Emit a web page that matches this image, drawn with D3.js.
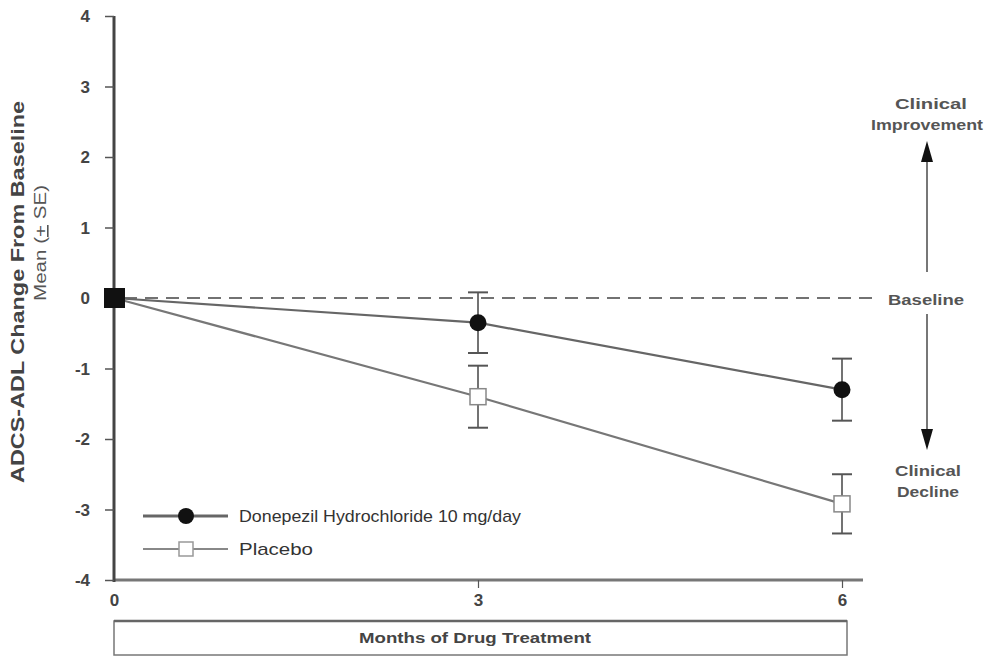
<!DOCTYPE html>
<html><head><meta charset="utf-8">
<script src="https://cdn.jsdelivr.net/npm/d3@7/dist/d3.min.js"></script>
<style>body{margin:0;background:#fff;}svg{display:block;}</style>
</head><body>
<svg id="c" width="985" height="657"></svg>
<script>
const months = [0, 3, 6];
const donepezilMean = [0, -0.35, -1.30];
const donepezilSE = [0, 0.43, 0.44];
const placeboMean = [0, -1.40, -2.92];
const placeboSE = [0, 0.44, 0.42];
const yTicks = [4, 3, 2, 1, 0, -1, -2, -3, -4];
const xTicks = [0, 3, 6];
const seriesNames = ["Donepezil Hydrochloride 10 mg/day", "Placebo"];

const svg = d3.select("#c");
const x = d3.scaleLinear().domain([0, 6]).range([114, 842]);
const y = d3.scaleLinear().domain([-4, 4]).range([580, 16]);
const font = "Liberation Sans, Arial, sans-serif";
const fmt = d => String(d);
const SG = "spacingAndGlyphs";

// baseline dashed
svg.append("line").attr("x1", x(0)+10).attr("x2", 880).attr("y1", y(0)).attr("y2", y(0))
  .attr("stroke", "#444").attr("stroke-width", 1.6).attr("stroke-dasharray", "13,8");

// x axis line
svg.append("line").attr("x1", x(0)).attr("x2", 863).attr("y1", y(-4)).attr("y2", y(-4))
  .attr("stroke", "#777").attr("stroke-width", 3);
// y axis
const yAxis = d3.axisLeft(y).tickValues(yTicks).tickSize(9).tickPadding(15).tickFormat(fmt);
const yg = svg.append("g").attr("transform", `translate(${x(0)},0)`).call(yAxis);
yg.select(".domain").attr("stroke", "#444").attr("stroke-width", 3).attr("d", `M0,${y(4)}V${y(-4)+2}`);
yg.selectAll(".tick line").attr("stroke", "#555").attr("stroke-width", 1.5);
yg.selectAll(".tick text").attr("font-family", font).attr("font-size", 17).attr("font-weight", "bold").attr("fill", "#444").attr("dy", "0.35em");

const xAxis = d3.axisBottom(x).tickValues(xTicks).tickSize(8).tickPadding(6).tickFormat(fmt);
const xg = svg.append("g").attr("transform", `translate(0,${y(-4)})`).call(xAxis);
xg.select(".domain").remove();
xg.selectAll(".tick line").attr("stroke", "#555").attr("stroke-width", 1.2).filter(d => d === 0).remove();
xg.selectAll(".tick text").attr("font-family", font).attr("font-size", 17).attr("font-weight", "bold").attr("fill", "#444");

// y axis title
svg.append("text").attr("transform", "translate(24,292) rotate(-90)")
  .attr("text-anchor", "middle").attr("font-family", font).attr("font-size", 18).attr("font-weight", "bold").attr("fill", "#444")
  .attr("textLength", 382).attr("lengthAdjust", SG)
  .text("ADCS-ADL Change From Baseline");
const yt2 = svg.append("text").attr("transform", "translate(46,243) rotate(-90)")
  .attr("text-anchor", "middle").attr("font-family", font).attr("font-size", 16).attr("fill", "#555")
  .attr("textLength", 116).attr("lengthAdjust", SG);
yt2.append("tspan").text("Mean (");
yt2.append("tspan").attr("text-decoration", "underline").text("+");
yt2.append("tspan").text(" SE)");

// lines
const lineGen = d3.line().x((d, i) => x(months[i])).y(d => y(d));
svg.append("path").attr("d", lineGen(placeboMean)).attr("fill", "none").attr("stroke", "#777").attr("stroke-width", 2.2);
svg.append("path").attr("d", lineGen(donepezilMean)).attr("fill", "none").attr("stroke", "#666").attr("stroke-width", 2.2);

// error bars
function errBars(mean, se) {
  months.forEach((m, i) => {
    if (i === 0) return;
    const cx = x(m);
    svg.append("line").attr("x1", cx).attr("x2", cx).attr("y1", y(mean[i] + se[i])).attr("y2", y(mean[i] - se[i]))
      .attr("stroke", "#444").attr("stroke-width", 1.5);
    [mean[i] + se[i], mean[i] - se[i]].forEach(v => {
      svg.append("line").attr("x1", cx - 10).attr("x2", cx + 10).attr("y1", y(v)).attr("y2", y(v))
        .attr("stroke", "#555").attr("stroke-width", 2);
    });
  });
}
errBars(donepezilMean, donepezilSE);
errBars(placeboMean, placeboSE);

// markers
months.forEach((m, i) => {
  if (i === 0) return;
  svg.append("circle").attr("cx", x(m)).attr("cy", y(donepezilMean[i])).attr("r", 8.5).attr("fill", "#111");
  svg.append("rect").attr("x", x(m) - 8).attr("y", y(placeboMean[i]) - 8).attr("width", 16).attr("height", 16)
    .attr("fill", "#fff").attr("stroke", "#888").attr("stroke-width", 1.5);
});
// baseline square
svg.append("rect").attr("x", x(0) - 10).attr("y", y(0) - 10).attr("width", 21).attr("height", 20).attr("fill", "#111");

// legend
const legY = [516, 549];
const legLen = [282, 74];
svg.append("line").attr("x1", 143).attr("x2", 228).attr("y1", legY[0]).attr("y2", legY[0]).attr("stroke", "#666").attr("stroke-width", 3);
svg.append("circle").attr("cx", 186).attr("cy", legY[0]).attr("r", 8).attr("fill", "#111");
svg.append("line").attr("x1", 143).attr("x2", 228).attr("y1", legY[1]).attr("y2", legY[1]).attr("stroke", "#888").attr("stroke-width", 2);
svg.append("rect").attr("x", 179).attr("y", legY[1] - 7).attr("width", 14).attr("height", 14).attr("fill", "#fff").attr("stroke", "#999").attr("stroke-width", 1.5);
seriesNames.forEach((n, i) => {
  svg.append("text").attr("x", 239).attr("y", legY[i]).attr("dy", "0.35em").attr("font-family", font)
    .attr("font-size", 17).attr("fill", "#333").attr("textLength", legLen[i]).attr("lengthAdjust", SG).text(n);
});

// right annotations
const ann = svg.append("g").attr("font-family", font).attr("font-weight", "bold").attr("font-size", 14).attr("fill", "#555").attr("text-anchor", "middle");
const annotations = [
  {t: "Clinical", x: 931, y: 109, w: 72},
  {t: "Improvement", x: 927, y: 130, w: 112},
  {t: "Baseline", x: 926, y: 305, w: 76},
  {t: "Clinical", x: 928, y: 476, w: 66},
  {t: "Decline", x: 928, y: 497, w: 62}
];
annotations.forEach(a => ann.append("text").attr("x", a.x).attr("y", a.y).attr("textLength", a.w).attr("lengthAdjust", SG).text(a.t));
svg.append("line").attr("x1", 927).attr("x2", 927).attr("y1", 272).attr("y2", 158).attr("stroke", "#777").attr("stroke-width", 2);
svg.append("path").attr("d", "M927,141 L921,162 L933,162 Z").attr("fill", "#111");
svg.append("line").attr("x1", 927).attr("x2", 927).attr("y1", 314).attr("y2", 432).attr("stroke", "#777").attr("stroke-width", 2);
svg.append("path").attr("d", "M927,450 L921,429 L933,429 Z").attr("fill", "#111");

// x axis title box
svg.append("rect").attr("x", 114).attr("y", 621).attr("width", 733).attr("height", 34).attr("fill", "#fff").attr("stroke", "#777").attr("stroke-width", 1.5);
svg.append("line").attr("x1", 114).attr("x2", 847).attr("y1", 621).attr("y2", 621).attr("stroke", "#666").attr("stroke-width", 2.5);
svg.append("text").attr("x", 475).attr("y", 638).attr("dy", "0.35em").attr("text-anchor", "middle").attr("font-family", font)
  .attr("font-size", 14).attr("font-weight", "bold").attr("fill", "#444")
  .attr("textLength", 232).attr("lengthAdjust", SG).text("Months of Drug Treatment");
</script>
</body></html>
